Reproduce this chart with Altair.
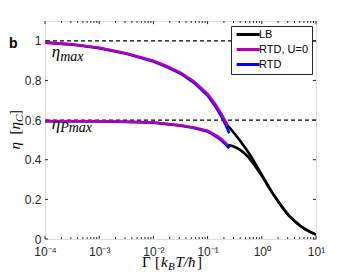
import altair as alt
import pandas as pd

# ---------------- data ----------------
# x values given as log10(Gamma)
rtd0_max_logG = [-4.0, -3.5, -3.0, -2.5, -2.0, -1.75, -1.5, -1.25, -1.0, -0.85, -0.75, -0.66, -0.63]
rtd0_max_eta = [0.992, 0.982, 0.965, 0.937, 0.899, 0.872, 0.840, 0.795, 0.732, 0.677, 0.633, 0.588, 0.572]
rtd_max_logG = [-4.0, -3.5, -3.0, -2.5, -2.0, -1.75, -1.5, -1.25, -1.0, -0.85, -0.75, -0.66, -0.60]
rtd_max_eta = [0.991, 0.981, 0.963, 0.935, 0.896, 0.868, 0.835, 0.788, 0.724, 0.666, 0.620, 0.572, 0.534]

rtd0_p_logG = [-4.0, -3.0, -2.5, -2.0, -1.5, -1.25, -1.0, -0.9, -0.8, -0.7, -0.63]
rtd0_p_eta = [0.595, 0.594, 0.592, 0.588, 0.574, 0.563, 0.546, 0.532, 0.515, 0.494, 0.474]
rtd_p_logG = [-4.0, -3.0, -2.5, -2.0, -1.5, -1.25, -1.0, -0.9, -0.8, -0.7, -0.60]
rtd_p_eta = [0.594, 0.593, 0.591, 0.587, 0.572, 0.560, 0.542, 0.527, 0.509, 0.486, 0.458]

lb_max_logG = [-0.64, -0.6, -0.5, -0.4, -0.3, -0.2, -0.1, 0.0, 0.1, 0.2, 0.3, 0.4, 0.5, 0.6, 0.7, 0.8, 0.9, 1.0]
lb_max_eta = [0.575, 0.563, 0.531, 0.496, 0.458, 0.418, 0.372, 0.323, 0.275, 0.230, 0.190, 0.152, 0.118, 0.092, 0.068, 0.050, 0.035, 0.022]
lb_p_logG = [-0.63, -0.55, -0.45, -0.35, -0.25, -0.15, -0.05, 0.05, 0.1, 0.2, 0.3, 0.4, 0.5, 0.6, 0.7, 0.8, 0.9, 1.0]
lb_p_eta = [0.474, 0.470, 0.458, 0.440, 0.414, 0.378, 0.340, 0.298, 0.275, 0.230, 0.190, 0.152, 0.118, 0.092, 0.068, 0.050, 0.035, 0.022]

dashed_levels = [1.0, 0.6]

x_major = [1e-4, 1e-3, 1e-2, 1e-1, 1e0, 1e1]
x_minor = [k * d for d in [1e-4, 1e-3, 1e-2, 1e-1, 1e0] for k in range(2, 10)]
y_major = [0, 0.2, 0.4, 0.6, 0.8, 1.0]

series_names = ["LB", "RTD, U=0", "RTD"]
series_colors = ["#000000", "#B400B4", "#0000FF"]

# ---------------- helpers ----------------
XS = alt.Scale(type="log", domain=[1e-4, 10], nice=False)
YS = alt.Scale(domain=[0, 1.1], nice=False, zero=False)

x_label_expr = ("datum.value < 5e-4 ? '10⁻⁴' : datum.value < 5e-3 ? '10⁻³' : "
                "datum.value < 5e-2 ? '10⁻²' : datum.value < 0.5 ? '10⁻¹' : "
                "datum.value < 5 ? '10⁰' : '10¹'")
X_AXIS = alt.Axis(values=x_major, labelExpr=x_label_expr, tickSize=0, domain=False,
                  grid=False, labelFont="Liberation Sans", labelFontSize=12,
                  labelColor="#262626", labelPadding=7, title=None, labelFlush=False)
Y_AXIS = alt.Axis(values=y_major, format="~g", tickSize=0, domain=False, grid=False,
                  labelFont="Liberation Sans", labelFontSize=12, labelColor="#262626",
                  labelPadding=4, title=None)


def X(f="G"):
    return alt.X(f + ":Q", scale=XS, axis=X_AXIS)


def Y(f="eta"):
    return alt.Y(f + ":Q", scale=YS, axis=Y_AXIS)


COLOR = alt.Color(
    "series:N",
    scale=alt.Scale(domain=series_names, range=series_colors),
    legend=alt.Legend(orient="none", legendX=186, legendY=5, title=None,
                      symbolType="M-1,0H7", symbolSize=33, symbolStrokeWidth=3,
                      labelFont="Liberation Sans", labelFontSize=11, labelColor="black",
                      labelOffset=14, padding=3, rowPadding=2,
                      strokeColor="#262626", fillColor="white"),
)


def curves(name, parts):
    rows = []
    for i, (lg, et) in enumerate(parts):
        for a, b in zip(lg, et):
            rows.append({"G": 10 ** a, "eta": b, "series": name, "seg": i})
    return pd.DataFrame(rows)


def line_layer(df):
    return alt.Chart(df).mark_line(strokeWidth=2.6, clip=True).encode(
        x=X(), y=Y(), color=COLOR, detail="seg:N", order="G:Q")


lb = line_layer(curves("LB", [(lb_max_logG, lb_max_eta), (lb_p_logG, lb_p_eta)]))
rtd = line_layer(curves("RTD", [(rtd_max_logG, rtd_max_eta), (rtd_p_logG, rtd_p_eta)]))
rtd0 = line_layer(curves("RTD, U=0", [(rtd0_max_logG, rtd0_max_eta), (rtd0_p_logG, rtd0_p_eta)]))

dashes = alt.Chart(pd.DataFrame({"eta": dashed_levels})).mark_rule(
    color="black", strokeWidth=1.2, strokeDash=[4, 3]).encode(y=Y())

# inside ticks (frame on all four sides)
tick_rows = []
for g in x_major:
    tick_rows += [{"G": g, "G2": g, "eta": 0, "eta2": 0.016},
                  {"G": g, "G2": g, "eta": 1.1, "eta2": 1.084}]
for g in x_minor:
    tick_rows += [{"G": g, "G2": g, "eta": 0, "eta2": 0.010},
                  {"G": g, "G2": g, "eta": 1.1, "eta2": 1.090}]
for v in y_major:
    tick_rows += [{"G": 1e-4, "G2": 1.14e-4, "eta": v, "eta2": v},
                  {"G": 10 / 1.14, "G2": 10, "eta": v, "eta2": v}]
ticks = alt.Chart(pd.DataFrame(tick_rows)).mark_rule(color="#262626", strokeWidth=1).encode(
    x=X(), x2="G2:Q", y=Y(), y2="eta2:Q")


def txt(text, G, eta, **kw):
    return alt.Chart(pd.DataFrame({"G": [G], "eta": [eta], "t": [text]})).mark_text(
        align="left", baseline="alphabetic", color="black", **kw).encode(
        x=X(), y=Y(), text="t:N")


SERIF = "Liberation Serif"
YT_G, YT_E = 3.45e-5, 0.452   # y-title anchor (bottom end of rotated text)
XT_G, XT_E = 0.006163, -0.1426  # x-title anchor (left end)
annots = [
    txt("b", 2.168e-5, 0.966, font="Liberation Sans", fontSize=14, fontWeight="bold"),
    # eta_max
    txt("η", 1.33e-4, 0.920, font=SERIF, fontSize=17, fontStyle="italic"),
    txt("max", 1.33e-4, 0.920, font=SERIF, fontSize=14, fontStyle="italic", dx=8.5, dy=4),
    # eta_Pmax
    txt("η", 1.33e-4, 0.553, font=SERIF, fontSize=17, fontStyle="italic"),
    txt("Pmax", 1.33e-4, 0.553, font=SERIF, fontSize=14, fontStyle="italic", dx=8.5, dy=3),
    # x title  Γ [k_B T/ħ]
    txt("Γ", XT_G, XT_E, font=SERIF, fontSize=15),
    txt("[", XT_G, XT_E, font=SERIF, fontSize=15, dx=13),
    txt("k", XT_G, XT_E, font=SERIF, fontSize=15, fontStyle="italic", dx=19),
    txt("B", XT_G, XT_E, font=SERIF, fontSize=11, fontStyle="italic", dx=26, dy=3),
    txt("T/ħ", XT_G, XT_E, font=SERIF, fontSize=15, fontStyle="italic", dx=33.5),
    txt("]", XT_G, XT_E, font=SERIF, fontSize=15, dx=55),
    # y title  η [η_C]
    txt("η", YT_G, YT_E, font=SERIF, fontSize=15, fontStyle="italic", angle=270),
    txt("[", YT_G, YT_E, font=SERIF, fontSize=15, angle=270, dx=15),
    txt("η", YT_G, YT_E, font=SERIF, fontSize=15, fontStyle="italic", angle=270, dx=20),
    txt("C", YT_G, YT_E, font=SERIF, fontSize=11, fontStyle="italic", angle=270, dx=27.5, dy=3),
    txt("]", YT_G, YT_E, font=SERIF, fontSize=15, angle=270, dx=34.5),
]

chart = alt.layer(dashes, ticks, lb, rtd, rtd0, *annots).properties(
    width=271, height=218,
    padding={"left": 37, "top": 13, "right": 17, "bottom": 32},
    autosize=alt.AutoSizeParams(type="none"),
).configure_view(stroke="#262626", strokeWidth=1.5).configure(background="white")

chart.save("out.html", embed_options={"renderer": "svg", "actions": False})
